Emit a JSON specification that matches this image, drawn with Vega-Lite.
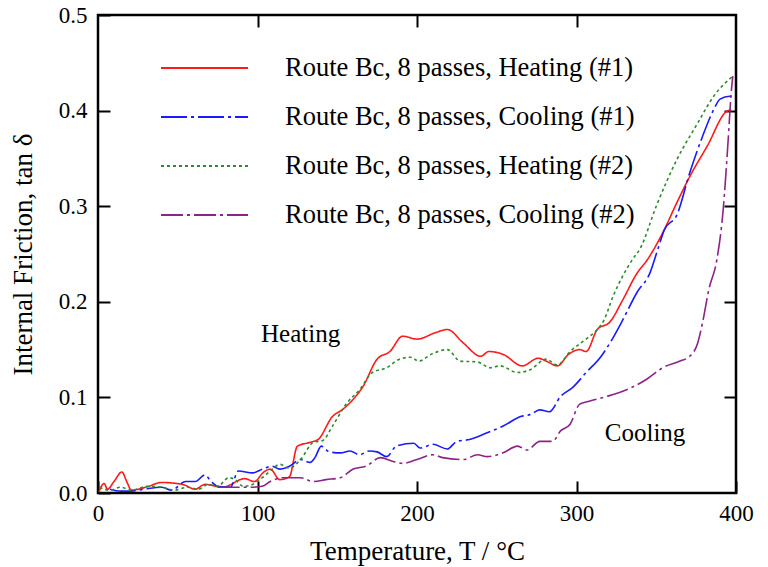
{
  "$schema": "https://vega.github.io/schema/vega-lite/v6.json",
  "width": 638,
  "height": 478,
  "autosize": "none",
  "padding": {"left": 98, "top": 15, "right": 32, "bottom": 74},
  "background": "white",
  "config": {
    "font": "Liberation Serif",
    "view": {"stroke": "black", "strokeWidth": 2.5},
    "axis": {
      "labelFont": "Liberation Serif",
      "titleFont": "Liberation Serif",
      "labelColor": "black",
      "titleColor": "black",
      "titleFontWeight": "normal",
      "grid": false,
      "domain": false,
      "ticks": true,
      "tickColor": "#000000",
      "tickOpacity": 1,
      "tickWidth": 2,
      "tickSize": 12,
      "offset": -12,
      "zindex": 1
    }
  },
  "datasets": {
    "curves": [
      {"T": 0.6, "v": 0.001, "s": "Route Bc, 8 passes, Heating (#1)"},
      {"T": 3.8, "v": 0.010, "s": "Route Bc, 8 passes, Heating (#1)"},
      {"T": 6, "v": 0.004, "s": "Route Bc, 8 passes, Heating (#1)"},
      {"T": 10, "v": 0.012, "s": "Route Bc, 8 passes, Heating (#1)"},
      {"T": 15, "v": 0.022, "s": "Route Bc, 8 passes, Heating (#1)"},
      {"T": 18, "v": 0.012, "s": "Route Bc, 8 passes, Heating (#1)"},
      {"T": 21, "v": 0.003, "s": "Route Bc, 8 passes, Heating (#1)"},
      {"T": 30, "v": 0.006, "s": "Route Bc, 8 passes, Heating (#1)"},
      {"T": 40, "v": 0.011, "s": "Route Bc, 8 passes, Heating (#1)"},
      {"T": 53, "v": 0.009, "s": "Route Bc, 8 passes, Heating (#1)"},
      {"T": 61, "v": 0.004, "s": "Route Bc, 8 passes, Heating (#1)"},
      {"T": 67, "v": 0.009, "s": "Route Bc, 8 passes, Heating (#1)"},
      {"T": 78, "v": 0.006, "s": "Route Bc, 8 passes, Heating (#1)"},
      {"T": 92, "v": 0.015, "s": "Route Bc, 8 passes, Heating (#1)"},
      {"T": 98, "v": 0.012, "s": "Route Bc, 8 passes, Heating (#1)"},
      {"T": 104, "v": 0.022, "s": "Route Bc, 8 passes, Heating (#1)"},
      {"T": 108, "v": 0.025, "s": "Route Bc, 8 passes, Heating (#1)"},
      {"T": 114, "v": 0.014, "s": "Route Bc, 8 passes, Heating (#1)"},
      {"T": 120, "v": 0.017, "s": "Route Bc, 8 passes, Heating (#1)"},
      {"T": 125, "v": 0.049, "s": "Route Bc, 8 passes, Heating (#1)"},
      {"T": 133, "v": 0.053, "s": "Route Bc, 8 passes, Heating (#1)"},
      {"T": 138, "v": 0.056, "s": "Route Bc, 8 passes, Heating (#1)"},
      {"T": 147, "v": 0.080, "s": "Route Bc, 8 passes, Heating (#1)"},
      {"T": 153, "v": 0.087, "s": "Route Bc, 8 passes, Heating (#1)"},
      {"T": 160, "v": 0.098, "s": "Route Bc, 8 passes, Heating (#1)"},
      {"T": 166, "v": 0.111, "s": "Route Bc, 8 passes, Heating (#1)"},
      {"T": 175, "v": 0.140, "s": "Route Bc, 8 passes, Heating (#1)"},
      {"T": 183, "v": 0.148, "s": "Route Bc, 8 passes, Heating (#1)"},
      {"T": 191, "v": 0.164, "s": "Route Bc, 8 passes, Heating (#1)"},
      {"T": 200, "v": 0.161, "s": "Route Bc, 8 passes, Heating (#1)"},
      {"T": 212, "v": 0.168, "s": "Route Bc, 8 passes, Heating (#1)"},
      {"T": 219, "v": 0.171, "s": "Route Bc, 8 passes, Heating (#1)"},
      {"T": 229, "v": 0.157, "s": "Route Bc, 8 passes, Heating (#1)"},
      {"T": 240, "v": 0.143, "s": "Route Bc, 8 passes, Heating (#1)"},
      {"T": 245, "v": 0.148, "s": "Route Bc, 8 passes, Heating (#1)"},
      {"T": 254, "v": 0.145, "s": "Route Bc, 8 passes, Heating (#1)"},
      {"T": 266, "v": 0.133, "s": "Route Bc, 8 passes, Heating (#1)"},
      {"T": 276, "v": 0.141, "s": "Route Bc, 8 passes, Heating (#1)"},
      {"T": 281, "v": 0.138, "s": "Route Bc, 8 passes, Heating (#1)"},
      {"T": 288, "v": 0.133, "s": "Route Bc, 8 passes, Heating (#1)"},
      {"T": 295, "v": 0.145, "s": "Route Bc, 8 passes, Heating (#1)"},
      {"T": 302, "v": 0.150, "s": "Route Bc, 8 passes, Heating (#1)"},
      {"T": 306, "v": 0.148, "s": "Route Bc, 8 passes, Heating (#1)"},
      {"T": 313, "v": 0.171, "s": "Route Bc, 8 passes, Heating (#1)"},
      {"T": 321, "v": 0.179, "s": "Route Bc, 8 passes, Heating (#1)"},
      {"T": 329, "v": 0.202, "s": "Route Bc, 8 passes, Heating (#1)"},
      {"T": 338, "v": 0.230, "s": "Route Bc, 8 passes, Heating (#1)"},
      {"T": 344, "v": 0.243, "s": "Route Bc, 8 passes, Heating (#1)"},
      {"T": 354, "v": 0.272, "s": "Route Bc, 8 passes, Heating (#1)"},
      {"T": 363, "v": 0.304, "s": "Route Bc, 8 passes, Heating (#1)"},
      {"T": 371, "v": 0.331, "s": "Route Bc, 8 passes, Heating (#1)"},
      {"T": 382, "v": 0.363, "s": "Route Bc, 8 passes, Heating (#1)"},
      {"T": 394, "v": 0.399, "s": "Route Bc, 8 passes, Heating (#1)"},
      {"T": 397, "v": 0.401, "s": "Route Bc, 8 passes, Heating (#1)"},

      {"T": 7.5, "v": 0.004, "s": "Route Bc, 8 passes, Cooling (#1)"},
      {"T": 14, "v": 0.002, "s": "Route Bc, 8 passes, Cooling (#1)"},
      {"T": 21, "v": 0.002, "s": "Route Bc, 8 passes, Cooling (#1)"},
      {"T": 29, "v": 0.004, "s": "Route Bc, 8 passes, Cooling (#1)"},
      {"T": 40, "v": 0.006, "s": "Route Bc, 8 passes, Cooling (#1)"},
      {"T": 46, "v": 0.003, "s": "Route Bc, 8 passes, Cooling (#1)"},
      {"T": 55, "v": 0.012, "s": "Route Bc, 8 passes, Cooling (#1)"},
      {"T": 61, "v": 0.012, "s": "Route Bc, 8 passes, Cooling (#1)"},
      {"T": 67, "v": 0.019, "s": "Route Bc, 8 passes, Cooling (#1)"},
      {"T": 70, "v": 0.014, "s": "Route Bc, 8 passes, Cooling (#1)"},
      {"T": 75, "v": 0.007, "s": "Route Bc, 8 passes, Cooling (#1)"},
      {"T": 83, "v": 0.006, "s": "Route Bc, 8 passes, Cooling (#1)"},
      {"T": 88, "v": 0.023, "s": "Route Bc, 8 passes, Cooling (#1)"},
      {"T": 97, "v": 0.021, "s": "Route Bc, 8 passes, Cooling (#1)"},
      {"T": 103, "v": 0.025, "s": "Route Bc, 8 passes, Cooling (#1)"},
      {"T": 109, "v": 0.028, "s": "Route Bc, 8 passes, Cooling (#1)"},
      {"T": 114, "v": 0.025, "s": "Route Bc, 8 passes, Cooling (#1)"},
      {"T": 120, "v": 0.028, "s": "Route Bc, 8 passes, Cooling (#1)"},
      {"T": 127, "v": 0.035, "s": "Route Bc, 8 passes, Cooling (#1)"},
      {"T": 133, "v": 0.032, "s": "Route Bc, 8 passes, Cooling (#1)"},
      {"T": 136, "v": 0.037, "s": "Route Bc, 8 passes, Cooling (#1)"},
      {"T": 140, "v": 0.049, "s": "Route Bc, 8 passes, Cooling (#1)"},
      {"T": 145, "v": 0.043, "s": "Route Bc, 8 passes, Cooling (#1)"},
      {"T": 152, "v": 0.042, "s": "Route Bc, 8 passes, Cooling (#1)"},
      {"T": 158, "v": 0.044, "s": "Route Bc, 8 passes, Cooling (#1)"},
      {"T": 164, "v": 0.040, "s": "Route Bc, 8 passes, Cooling (#1)"},
      {"T": 170, "v": 0.044, "s": "Route Bc, 8 passes, Cooling (#1)"},
      {"T": 175, "v": 0.043, "s": "Route Bc, 8 passes, Cooling (#1)"},
      {"T": 181, "v": 0.038, "s": "Route Bc, 8 passes, Cooling (#1)"},
      {"T": 187, "v": 0.049, "s": "Route Bc, 8 passes, Cooling (#1)"},
      {"T": 198, "v": 0.052, "s": "Route Bc, 8 passes, Cooling (#1)"},
      {"T": 202, "v": 0.047, "s": "Route Bc, 8 passes, Cooling (#1)"},
      {"T": 210, "v": 0.051, "s": "Route Bc, 8 passes, Cooling (#1)"},
      {"T": 219, "v": 0.046, "s": "Route Bc, 8 passes, Cooling (#1)"},
      {"T": 225, "v": 0.054, "s": "Route Bc, 8 passes, Cooling (#1)"},
      {"T": 233, "v": 0.056, "s": "Route Bc, 8 passes, Cooling (#1)"},
      {"T": 244, "v": 0.063, "s": "Route Bc, 8 passes, Cooling (#1)"},
      {"T": 254, "v": 0.070, "s": "Route Bc, 8 passes, Cooling (#1)"},
      {"T": 265, "v": 0.080, "s": "Route Bc, 8 passes, Cooling (#1)"},
      {"T": 271, "v": 0.082, "s": "Route Bc, 8 passes, Cooling (#1)"},
      {"T": 277, "v": 0.087, "s": "Route Bc, 8 passes, Cooling (#1)"},
      {"T": 283, "v": 0.085, "s": "Route Bc, 8 passes, Cooling (#1)"},
      {"T": 290, "v": 0.101, "s": "Route Bc, 8 passes, Cooling (#1)"},
      {"T": 298, "v": 0.111, "s": "Route Bc, 8 passes, Cooling (#1)"},
      {"T": 306, "v": 0.126, "s": "Route Bc, 8 passes, Cooling (#1)"},
      {"T": 315, "v": 0.142, "s": "Route Bc, 8 passes, Cooling (#1)"},
      {"T": 321, "v": 0.157, "s": "Route Bc, 8 passes, Cooling (#1)"},
      {"T": 329, "v": 0.181, "s": "Route Bc, 8 passes, Cooling (#1)"},
      {"T": 338, "v": 0.210, "s": "Route Bc, 8 passes, Cooling (#1)"},
      {"T": 346, "v": 0.230, "s": "Route Bc, 8 passes, Cooling (#1)"},
      {"T": 351, "v": 0.255, "s": "Route Bc, 8 passes, Cooling (#1)"},
      {"T": 355, "v": 0.275, "s": "Route Bc, 8 passes, Cooling (#1)"},
      {"T": 363, "v": 0.291, "s": "Route Bc, 8 passes, Cooling (#1)"},
      {"T": 371, "v": 0.335, "s": "Route Bc, 8 passes, Cooling (#1)"},
      {"T": 379, "v": 0.373, "s": "Route Bc, 8 passes, Cooling (#1)"},
      {"T": 386, "v": 0.401, "s": "Route Bc, 8 passes, Cooling (#1)"},
      {"T": 390, "v": 0.412, "s": "Route Bc, 8 passes, Cooling (#1)"},
      {"T": 396, "v": 0.415, "s": "Route Bc, 8 passes, Cooling (#1)"},
      {"T": 397, "v": 0.414, "s": "Route Bc, 8 passes, Cooling (#1)"},

      {"T": 1, "v": 0.006, "s": "Route Bc, 8 passes, Heating (#2)"},
      {"T": 7.5, "v": 0.003, "s": "Route Bc, 8 passes, Heating (#2)"},
      {"T": 14, "v": 0.006, "s": "Route Bc, 8 passes, Heating (#2)"},
      {"T": 21, "v": 0.003, "s": "Route Bc, 8 passes, Heating (#2)"},
      {"T": 31, "v": 0.007, "s": "Route Bc, 8 passes, Heating (#2)"},
      {"T": 40, "v": 0.006, "s": "Route Bc, 8 passes, Heating (#2)"},
      {"T": 48, "v": 0.003, "s": "Route Bc, 8 passes, Heating (#2)"},
      {"T": 56, "v": 0.006, "s": "Route Bc, 8 passes, Heating (#2)"},
      {"T": 63, "v": 0.004, "s": "Route Bc, 8 passes, Heating (#2)"},
      {"T": 69, "v": 0.009, "s": "Route Bc, 8 passes, Heating (#2)"},
      {"T": 75, "v": 0.007, "s": "Route Bc, 8 passes, Heating (#2)"},
      {"T": 82, "v": 0.016, "s": "Route Bc, 8 passes, Heating (#2)"},
      {"T": 86, "v": 0.014, "s": "Route Bc, 8 passes, Heating (#2)"},
      {"T": 91, "v": 0.007, "s": "Route Bc, 8 passes, Heating (#2)"},
      {"T": 97, "v": 0.009, "s": "Route Bc, 8 passes, Heating (#2)"},
      {"T": 103, "v": 0.016, "s": "Route Bc, 8 passes, Heating (#2)"},
      {"T": 108, "v": 0.023, "s": "Route Bc, 8 passes, Heating (#2)"},
      {"T": 114, "v": 0.030, "s": "Route Bc, 8 passes, Heating (#2)"},
      {"T": 120, "v": 0.026, "s": "Route Bc, 8 passes, Heating (#2)"},
      {"T": 127, "v": 0.035, "s": "Route Bc, 8 passes, Heating (#2)"},
      {"T": 135, "v": 0.053, "s": "Route Bc, 8 passes, Heating (#2)"},
      {"T": 141, "v": 0.055, "s": "Route Bc, 8 passes, Heating (#2)"},
      {"T": 147, "v": 0.070, "s": "Route Bc, 8 passes, Heating (#2)"},
      {"T": 156, "v": 0.094, "s": "Route Bc, 8 passes, Heating (#2)"},
      {"T": 164, "v": 0.108, "s": "Route Bc, 8 passes, Heating (#2)"},
      {"T": 172, "v": 0.126, "s": "Route Bc, 8 passes, Heating (#2)"},
      {"T": 181, "v": 0.131, "s": "Route Bc, 8 passes, Heating (#2)"},
      {"T": 189, "v": 0.140, "s": "Route Bc, 8 passes, Heating (#2)"},
      {"T": 196, "v": 0.142, "s": "Route Bc, 8 passes, Heating (#2)"},
      {"T": 201, "v": 0.138, "s": "Route Bc, 8 passes, Heating (#2)"},
      {"T": 210, "v": 0.146, "s": "Route Bc, 8 passes, Heating (#2)"},
      {"T": 219, "v": 0.150, "s": "Route Bc, 8 passes, Heating (#2)"},
      {"T": 227, "v": 0.138, "s": "Route Bc, 8 passes, Heating (#2)"},
      {"T": 238, "v": 0.137, "s": "Route Bc, 8 passes, Heating (#2)"},
      {"T": 246, "v": 0.131, "s": "Route Bc, 8 passes, Heating (#2)"},
      {"T": 252, "v": 0.133, "s": "Route Bc, 8 passes, Heating (#2)"},
      {"T": 263, "v": 0.126, "s": "Route Bc, 8 passes, Heating (#2)"},
      {"T": 271, "v": 0.129, "s": "Route Bc, 8 passes, Heating (#2)"},
      {"T": 281, "v": 0.140, "s": "Route Bc, 8 passes, Heating (#2)"},
      {"T": 288, "v": 0.134, "s": "Route Bc, 8 passes, Heating (#2)"},
      {"T": 296, "v": 0.148, "s": "Route Bc, 8 passes, Heating (#2)"},
      {"T": 306, "v": 0.161, "s": "Route Bc, 8 passes, Heating (#2)"},
      {"T": 313, "v": 0.171, "s": "Route Bc, 8 passes, Heating (#2)"},
      {"T": 317, "v": 0.180, "s": "Route Bc, 8 passes, Heating (#2)"},
      {"T": 323, "v": 0.206, "s": "Route Bc, 8 passes, Heating (#2)"},
      {"T": 329, "v": 0.227, "s": "Route Bc, 8 passes, Heating (#2)"},
      {"T": 335, "v": 0.244, "s": "Route Bc, 8 passes, Heating (#2)"},
      {"T": 340, "v": 0.256, "s": "Route Bc, 8 passes, Heating (#2)"},
      {"T": 350, "v": 0.300, "s": "Route Bc, 8 passes, Heating (#2)"},
      {"T": 363, "v": 0.349, "s": "Route Bc, 8 passes, Heating (#2)"},
      {"T": 376, "v": 0.387, "s": "Route Bc, 8 passes, Heating (#2)"},
      {"T": 386, "v": 0.415, "s": "Route Bc, 8 passes, Heating (#2)"},
      {"T": 398, "v": 0.436, "s": "Route Bc, 8 passes, Heating (#2)"},

      {"T": 75, "v": 0.006, "s": "Route Bc, 8 passes, Cooling (#2)"},
      {"T": 86, "v": 0.006, "s": "Route Bc, 8 passes, Cooling (#2)"},
      {"T": 95, "v": 0.006, "s": "Route Bc, 8 passes, Cooling (#2)"},
      {"T": 103, "v": 0.007, "s": "Route Bc, 8 passes, Cooling (#2)"},
      {"T": 108, "v": 0.012, "s": "Route Bc, 8 passes, Cooling (#2)"},
      {"T": 116, "v": 0.016, "s": "Route Bc, 8 passes, Cooling (#2)"},
      {"T": 127, "v": 0.016, "s": "Route Bc, 8 passes, Cooling (#2)"},
      {"T": 135, "v": 0.012, "s": "Route Bc, 8 passes, Cooling (#2)"},
      {"T": 143, "v": 0.014, "s": "Route Bc, 8 passes, Cooling (#2)"},
      {"T": 152, "v": 0.016, "s": "Route Bc, 8 passes, Cooling (#2)"},
      {"T": 160, "v": 0.025, "s": "Route Bc, 8 passes, Cooling (#2)"},
      {"T": 168, "v": 0.028, "s": "Route Bc, 8 passes, Cooling (#2)"},
      {"T": 177, "v": 0.037, "s": "Route Bc, 8 passes, Cooling (#2)"},
      {"T": 185, "v": 0.033, "s": "Route Bc, 8 passes, Cooling (#2)"},
      {"T": 191, "v": 0.031, "s": "Route Bc, 8 passes, Cooling (#2)"},
      {"T": 200, "v": 0.035, "s": "Route Bc, 8 passes, Cooling (#2)"},
      {"T": 210, "v": 0.040, "s": "Route Bc, 8 passes, Cooling (#2)"},
      {"T": 216, "v": 0.037, "s": "Route Bc, 8 passes, Cooling (#2)"},
      {"T": 229, "v": 0.035, "s": "Route Bc, 8 passes, Cooling (#2)"},
      {"T": 238, "v": 0.040, "s": "Route Bc, 8 passes, Cooling (#2)"},
      {"T": 244, "v": 0.038, "s": "Route Bc, 8 passes, Cooling (#2)"},
      {"T": 254, "v": 0.042, "s": "Route Bc, 8 passes, Cooling (#2)"},
      {"T": 263, "v": 0.049, "s": "Route Bc, 8 passes, Cooling (#2)"},
      {"T": 269, "v": 0.045, "s": "Route Bc, 8 passes, Cooling (#2)"},
      {"T": 277, "v": 0.054, "s": "Route Bc, 8 passes, Cooling (#2)"},
      {"T": 285, "v": 0.054, "s": "Route Bc, 8 passes, Cooling (#2)"},
      {"T": 290, "v": 0.065, "s": "Route Bc, 8 passes, Cooling (#2)"},
      {"T": 296, "v": 0.072, "s": "Route Bc, 8 passes, Cooling (#2)"},
      {"T": 302, "v": 0.093, "s": "Route Bc, 8 passes, Cooling (#2)"},
      {"T": 308, "v": 0.096, "s": "Route Bc, 8 passes, Cooling (#2)"},
      {"T": 319, "v": 0.101, "s": "Route Bc, 8 passes, Cooling (#2)"},
      {"T": 334, "v": 0.110, "s": "Route Bc, 8 passes, Cooling (#2)"},
      {"T": 344, "v": 0.119, "s": "Route Bc, 8 passes, Cooling (#2)"},
      {"T": 354, "v": 0.131, "s": "Route Bc, 8 passes, Cooling (#2)"},
      {"T": 365, "v": 0.138, "s": "Route Bc, 8 passes, Cooling (#2)"},
      {"T": 371, "v": 0.143, "s": "Route Bc, 8 passes, Cooling (#2)"},
      {"T": 376, "v": 0.157, "s": "Route Bc, 8 passes, Cooling (#2)"},
      {"T": 379, "v": 0.178, "s": "Route Bc, 8 passes, Cooling (#2)"},
      {"T": 383, "v": 0.213, "s": "Route Bc, 8 passes, Cooling (#2)"},
      {"T": 388, "v": 0.244, "s": "Route Bc, 8 passes, Cooling (#2)"},
      {"T": 392, "v": 0.297, "s": "Route Bc, 8 passes, Cooling (#2)"},
      {"T": 395, "v": 0.367, "s": "Route Bc, 8 passes, Cooling (#2)"},
      {"T": 397, "v": 0.419, "s": "Route Bc, 8 passes, Cooling (#2)"},
      {"T": 398, "v": 0.436, "s": "Route Bc, 8 passes, Cooling (#2)"}
    ],
    "notes": [
      {"T": 127, "v": 0.166, "label": "Heating"},
      {"T": 343, "v": 0.063, "label": "Cooling"}
    ]
  },
  "layer": [
    {
      "data": {"name": "curves"},
      "mark": {"type": "line", "strokeWidth": 1.6, "interpolate": "monotone", "clip": true},
      "encoding": {
        "x": {
          "field": "T", "type": "quantitative",
          "scale": {"domain": [0, 400], "nice": false, "zero": false},
          "axis": {
            "orient": "bottom",
            "values": [0, 100, 200, 300, 400],
            "title": "Temperature, T / °C",
            "labelFontSize": 23,
            "titleFontSize": 27,
            "labelPadding": 9,
            "titlePadding": 13,
            "labelFlush": false
          }
        },
        "y": {
          "field": "v", "type": "quantitative",
          "scale": {"domain": [0, 0.5], "nice": false},
          "axis": {
            "orient": "left",
            "values": [0, 0.1, 0.2, 0.3, 0.4, 0.5],
            "format": ".1f",
            "title": "Internal Friction, tan δ",
            "labelFontSize": 23,
            "titleFontSize": 27,
            "labelPadding": 11,
            "titlePadding": 21,
            "labelFlush": false
          }
        },
        "color": {
          "field": "s", "type": "nominal",
          "scale": {
            "domain": ["Route Bc, 8 passes, Heating (#1)", "Route Bc, 8 passes, Cooling (#1)", "Route Bc, 8 passes, Heating (#2)", "Route Bc, 8 passes, Cooling (#2)"],
            "range": ["#ff1a1a", "#1a1aff", "#2e8b2e", "#8e2387"]
          },
          "legend": {
            "title": null,
            "orient": "none",
            "legendX": 62,
            "legendY": 40,
            "padding": 0,
            "symbolType": "stroke",
            "symbolSize": 7569,
            "symbolStrokeWidth": 1.8,
            "clipHeight": 26,
            "rowPadding": 22,
            "labelOffset": 36,
            "labelFont": "Liberation Serif",
            "labelFontSize": 26.5,
            "labelColor": "black",
            "labelLimit": 600
          }
        },
        "strokeDash": {
          "field": "s", "type": "nominal",
          "scale": {
            "domain": ["Route Bc, 8 passes, Heating (#1)", "Route Bc, 8 passes, Cooling (#1)", "Route Bc, 8 passes, Heating (#2)", "Route Bc, 8 passes, Cooling (#2)"],
            "range": [[1, 0], [26, 4, 3, 4], [3, 3], [22, 4, 3, 4]]
          },
          "legend": null
        }
      }
    },
    {
      "data": {"name": "curves"},
      "mark": {"type": "point", "opacity": 0},
      "encoding": {
        "x": {
          "field": "T", "type": "quantitative",
          "axis": {"orient": "top", "values": [100, 200, 300], "labels": false, "title": null}
        },
        "y": {
          "field": "v", "type": "quantitative",
          "axis": {"orient": "right", "values": [0.1, 0.2, 0.3, 0.4], "labels": false, "title": null}
        }
      }
    },
    {
      "data": {"name": "notes"},
      "mark": {"type": "text", "font": "Liberation Serif", "fontSize": 25, "color": "black", "align": "center", "baseline": "middle"},
      "encoding": {
        "x": {"field": "T", "type": "quantitative", "axis": null},
        "y": {"field": "v", "type": "quantitative", "axis": null},
        "text": {"field": "label"}
      }
    }
  ],
  "resolve": {"axis": {"x": "independent", "y": "independent"}}
}
